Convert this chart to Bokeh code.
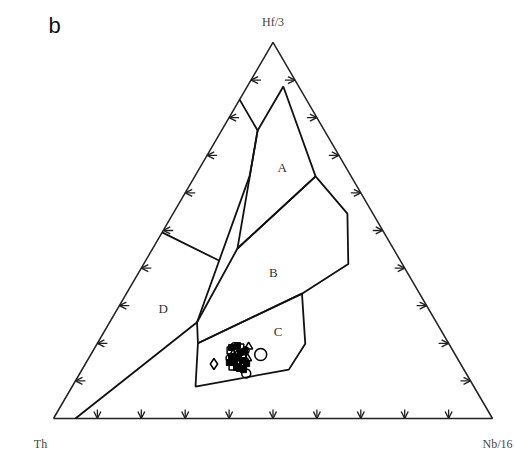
import math
from bokeh.plotting import figure
from bokeh.models import Range1d, ColumnDataSource, Arrow, OpenHead
from bokeh.core.properties import value
from bokeh.embed import file_html
from bokeh.resources import INLINE

# ---------------- data (Th, Hf/3, Nb/16 in %) ----------------
corner_labels = ["Th", "Hf/3", "Nb/16"]
panel_label = "b"
tick_levels = [10, 20, 30, 40, 50, 60, 70, 80, 90]

# field A (closed)
fieldA_th = [15.2, 3.5, 8.1, 35.5, 15.2]
fieldA_hf = [76.6, 88.3, 64.4, 45.2, 76.6]
fieldA_nb = [8.2, 8.2, 27.5, 19.3, 8.2]
# field B (closed)
fieldB_th = [35.5, 8.1, 5.8, 12.3, 26.8, 57.1, 54.5, 35.5]
fieldB_hf = [45.2, 64.4, 54.5, 41.1, 33.2, 20.0, 25.6, 45.2]
fieldB_nb = [19.3, 27.5, 39.7, 46.6, 40.0, 22.9, 19.9, 19.3]
# field C (closed)
fieldC_th = [57.1, 26.8, 32.7, 39.9, 63.4, 57.1]
fieldC_hf = [20.0, 33.2, 19.9, 13.0, 8.5, 20.0]
fieldC_nb = [22.9, 40.0, 47.4, 47.1, 28.1, 22.9]
# field D boundary (open line from Th-Nb side to Th-Hf side)
fieldD_th = [95.0, 54.5, 23.0, 15.2, 15.2]
fieldD_hf = [0.0, 25.6, 64.6, 76.6, 84.8]
fieldD_nb = [5.0, 19.9, 12.4, 8.2, 0.0]
# D1 / D2 divider
divD_th = [50.5, 41.3]
divD_hf = [49.5, 42.0]
divD_nb = [0.0, 16.7]

field_labels = ["A", "B", "C", "D"]
field_label_th = [14.5, 30.5, 37.3, 60.4]
field_label_hf = [66.8, 38.9, 23.1, 29.2]
field_label_nb = [18.7, 30.6, 39.6, 10.4]

# samples
sq_th = [50.6, 48.0, 50.6, 49.0, 52.3]
sq_hf = [18.1, 18.9, 15.4, 14.9, 13.8]
sq_nb = [31.3, 33.1, 34.0, 36.1, 33.9]

ci_th = [49.2, 47.2, 49.4, 51.9, 50.3]
ci_hf = [19.2, 18.1, 17.0, 16.0, 13.8]
ci_nb = [31.6, 34.7, 33.6, 32.1, 35.9]

tr_th = [46.0, 50.4, 48.5, 50.7, 47.8]
tr_hf = [19.1, 17.3, 16.5, 14.4, 16.0]
tr_nb = [34.9, 32.3, 35.0, 34.9, 36.2]

fill_th = [50.2, 48.6, 49.2, 51.3, 51.0, 50.0, 48.4, 47.6, 51.2, 48.7, 51.5, 50.2, 52.5]
fill_hf = [16.2, 17.6, 15.4, 14.9, 13.3, 18.9, 19.4, 17.8, 16.5, 14.6, 13.6, 13.0, 14.9]
fill_nb = [33.6, 33.8, 35.4, 33.8, 35.7, 31.1, 32.2, 34.6, 32.3, 36.7, 34.9, 36.8, 32.6]

bigci_th = [44.3]
bigci_hf = [17.0]
bigci_nb = [38.7]

midci_th = [50.1]
midci_hf = [12.0]
midci_nb = [37.9]

dia_th = [56.2]
dia_hf = [14.5]
dia_nb = [29.3]

# ---------------- helpers ----------------
R3 = math.sqrt(3) / 2


def tern(th, hf, nb):
    xs, ys = [], []
    for a, b, c in zip(th, hf, nb):
        s = a + b + c
        h, n = b / s, c / s
        xs.append(n + h / 2)
        ys.append(h * R3)
    return xs, ys


W, H = 515, 455
SX, SY = 439.0, 434.2           # pixels per data unit
LEFT, BASE = 53, 418            # pixel position of the Th corner
X0, X1 = -LEFT / SX, (W - LEFT) / SX
Y0, Y1 = -(H - BASE) / SY, BASE / SY

p = figure(width=W, height=H, output_backend="svg", toolbar_location=None,
           x_range=Range1d(X0, X1), y_range=Range1d(Y0, Y1),
           min_border=0, background_fill_color="white",
           border_fill_color="white")
p.axis.visible = False
p.grid.visible = False
p.outline_line_color = None

LC = "#111111"

# triangle outline
tx, ty = tern([100, 0, 0, 100], [0, 100, 0, 0], [0, 0, 100, 0])
p.line(tx, ty, line_color="#222222", line_width=1.5)

# tick arrows
lx, ly, rx, ry, bx, by = [], [], [], [], [], []
for t in tick_levels:
    x, y = tern([100 - t], [t], [0])
    lx.append(x[0]); ly.append(y[0])
    x, y = tern([0], [t], [100 - t])
    rx.append(x[0]); ry.append(y[0])
    x, y = tern([100 - t], [0], [t])
    bx.append(x[0]); by.append(y[0])

shaft = 10
src_l = ColumnDataSource(dict(xs=[v + shaft / SX for v in lx], ys=ly, xe=lx, ye=ly))
src_r = ColumnDataSource(dict(xs=[v - shaft / SX for v in rx], ys=ry, xe=rx, ye=ry))
src_b = ColumnDataSource(dict(xs=bx, ys=[v + 9 / SY for v in by], xe=bx, ye=by))
for src in (src_l, src_r, src_b):
    p.add_layout(Arrow(end=OpenHead(size=7, line_width=1.4, line_color="#222222"),
                       source=src, x_start="xs", y_start="ys",
                       x_end="xe", y_end="ye",
                       line_color="#222222", line_width=1.3))

# field boundaries
for th, hf, nb in [(fieldA_th, fieldA_hf, fieldA_nb),
                   (fieldB_th, fieldB_hf, fieldB_nb),
                   (fieldC_th, fieldC_hf, fieldC_nb),
                   (fieldD_th, fieldD_hf, fieldD_nb),
                   (divD_th, divD_hf, divD_nb)]:
    x, y = tern(th, hf, nb)
    p.line(x, y, line_color=LC, line_width=1.8)

# field labels
fx, fy = tern(field_label_th, field_label_hf, field_label_nb)
p.text(fx, fy, text=field_labels, text_font=value("Liberation Serif"),
       text_font_size="13px", text_align="center", text_baseline="middle",
       text_color="#333333")

# samples
x, y = tern(fill_th, fill_hf, fill_nb)
p.scatter(x, y, marker="square", size=6, fill_color="black", line_color="black", line_width=1)
x, y = tern(sq_th, sq_hf, sq_nb)
p.scatter(x, y, marker="square", size=7, fill_color=None, line_color="black", line_width=1.5)
x, y = tern(ci_th, ci_hf, ci_nb)
p.scatter(x, y, marker="circle", size=7, fill_color=None, line_color="black", line_width=1.5)
x, y = tern(tr_th, tr_hf, tr_nb)
p.scatter(x, y, marker="triangle", size=8, fill_color=None, line_color="black", line_width=1.5)
x, y = tern(bigci_th, bigci_hf, bigci_nb)
p.scatter(x, y, marker="circle", size=12, fill_color=None, line_color="black", line_width=1.5)
x, y = tern(midci_th, midci_hf, midci_nb)
p.scatter(x, y, marker="circle", size=9, fill_color=None, line_color="black", line_width=1.5)
x, y = tern(dia_th, dia_hf, dia_nb)
p.scatter(x, y, marker="diamond", size=11, fill_color=None, line_color="black", line_width=1.5)

# corner labels (offset from the corners in pixels)
cx, cy = tern([100, 0, 0], [0, 100, 0], [0, 0, 100])
off = [(-13, -25), (0, 20), (20, -25)]
aligns = ["center", "center", "right"]
for i in range(3):
    p.text([cx[i] + off[i][0] / SX], [cy[i] + off[i][1] / SY],
           text=[corner_labels[i]], text_font=value("Liberation Serif"),
           text_font_size="12px", text_align=aligns[i], text_baseline="middle",
           text_color="#444444")

# panel label
p.text([cx[0] + 1 / SX], [cy[1] + 17 / SY], text=[panel_label],
       text_font=value("Liberation Sans"), text_font_size="22px",
       text_align="center", text_baseline="middle", text_color="#111111")

open("out.html", "w").write(file_html(p, INLINE))
